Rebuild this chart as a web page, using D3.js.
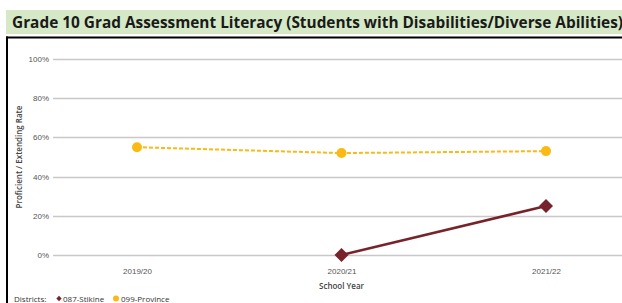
<!DOCTYPE html>
<html>
<head>
<meta charset="utf-8">
<script src="https://cdn.jsdelivr.net/npm/d3@7"></script>
<style>
  html, body { margin: 0; padding: 0; background: #fff; overflow: hidden; }
  svg { display: block; font-family: "Open Sans", "DejaVu Sans", sans-serif; }
</style>
</head>
<body>
<svg id="chart"></svg>
<script>
const title = 'Grade 10 Grad Assessment Literacy (Students with Disabilities/Diverse Abilities)';
const years = ['2019/20', '2020/21', '2021/22'];
const yTicks = [0, 20, 40, 60, 80, 100];
const stikine = [null, 0, 25];
const province = [55, 52, 53];
const seriesNames = ['087-Stikine', '099-Province'];

const width = 622, height = 303;
const margin = {top: 59, right: 0, bottom: 48, left: 53};

const svg = d3.select('#chart').attr('width', width).attr('height', height);

// title banner
svg.append('rect')
  .attr('x', 6).attr('y', 10).attr('width', width - 6).attr('height', 24)
  .attr('fill', '#d5e9c6');
const titleText = svg.append('text')
  .attr('x', 12).attr('y', 27.5)
  .attr('font-weight', 'bold')
  .attr('font-size', 15)
  .attr('fill', '#1a1a1a')
  .text(title);
// squeeze to the width seen in the reference
const tw = titleText.node().getComputedTextLength();
titleText.attr('font-size', 15 * 612 / tw);

// frame
svg.append('rect').attr('x', 6).attr('y', 36.5).attr('width', width - 6).attr('height', 2).attr('fill', '#000');
svg.append('rect').attr('x', 6).attr('y', 36.5).attr('width', 2).attr('height', height).attr('fill', '#000');

const x = d3.scalePoint()
  .domain(years)
  .range([137, 546]);

const y = d3.scaleLinear()
  .domain([0, 100])
  .range([255, 59]);

// gridlines + y labels
const yAxis = svg.append('g')
  .call(d3.axisLeft(y).tickValues(yTicks).tickFormat(d => d + '%').tickSize(0).tickPadding(0))
  .attr('transform', `translate(49, 0)`);
yAxis.select('.domain').remove();
yAxis.selectAll('text').attr('font-size', 8).attr('fill', '#555').attr('font-family', null);

svg.append('g').selectAll('line').data(yTicks).join('line')
  .attr('x1', margin.left).attr('x2', width)
  .attr('y1', d => Math.round(y(d)) + 0.5).attr('y2', d => Math.round(y(d)) + 0.5)
  .attr('stroke', '#c8c8c8').attr('stroke-width', 1.5);

// x labels
const xAxis = svg.append('g')
  .attr('transform', 'translate(0, 268)')
  .call(d3.axisBottom(x).tickSize(0).tickPadding(0));
xAxis.select('.domain').remove();
xAxis.selectAll('text').attr('font-size', 8).attr('fill', '#555').attr('font-family', null);

svg.append('text')
  .attr('x', x(years[1])).attr('y', 289)
  .attr('text-anchor', 'middle')
  .attr('font-size', 8).attr('font-weight', 600).attr('fill', '#444')
  .text('School Year');

svg.append('text')
  .attr('transform', `translate(22, 157) rotate(-90)`)
  .attr('text-anchor', 'middle')
  .attr('font-size', 8).attr('font-weight', 600).attr('fill', '#444')
  .text('Proficient / Extending Rate');

// province (dashed, yellow)
const provColor = '#fbb914';
const stikColor = '#77232b';
const line = d3.line()
  .defined(d => d.v != null)
  .x(d => x(d.year)).y(d => y(d.v));

const provData = years.map((year, i) => ({year, v: province[i]}));
const stikData = years.map((year, i) => ({year, v: stikine[i]}));

svg.append('path').datum(provData)
  .attr('d', line).attr('fill', 'none')
  .attr('stroke', provColor).attr('stroke-width', 2).attr('stroke-dasharray', '4,2');
svg.append('g').selectAll('circle').data(provData.filter(d => d.v != null)).join('circle')
  .attr('cx', d => x(d.year)).attr('cy', d => y(d.v)).attr('r', 5)
  .attr('fill', provColor);

svg.append('path').datum(stikData)
  .attr('d', line).attr('fill', 'none')
  .attr('stroke', stikColor).attr('stroke-width', 2.5);
const diamond = d3.symbol().type(d3.symbolSquare).size(98);
svg.append('g').selectAll('path').data(stikData.filter(d => d.v != null)).join('path')
  .attr('d', diamond)
  .attr('transform', d => `translate(${x(d.year)}, ${y(d.v)}) rotate(45)`)
  .attr('fill', stikColor);

// legend (sits at the bottom edge, as in the reference)
const legend = svg.append('g').attr('font-size', 8).attr('fill', '#333');
legend.append('text').attr('x', 14).attr('y', 301.5).text('Districts:');
legend.append('path')
  .attr('d', d3.symbol().type(d3.symbolSquare).size(14))
  .attr('transform', 'translate(59, 298.5) rotate(45)')
  .attr('fill', stikColor);
legend.append('text').attr('x', 63).attr('y', 301.5).text(seriesNames[0]);
legend.append('circle').attr('cx', 116).attr('cy', 298.5).attr('r', 3).attr('fill', provColor);
legend.append('text').attr('x', 121).attr('y', 301.5).text(seriesNames[1]);
</script>
</body>
</html>
